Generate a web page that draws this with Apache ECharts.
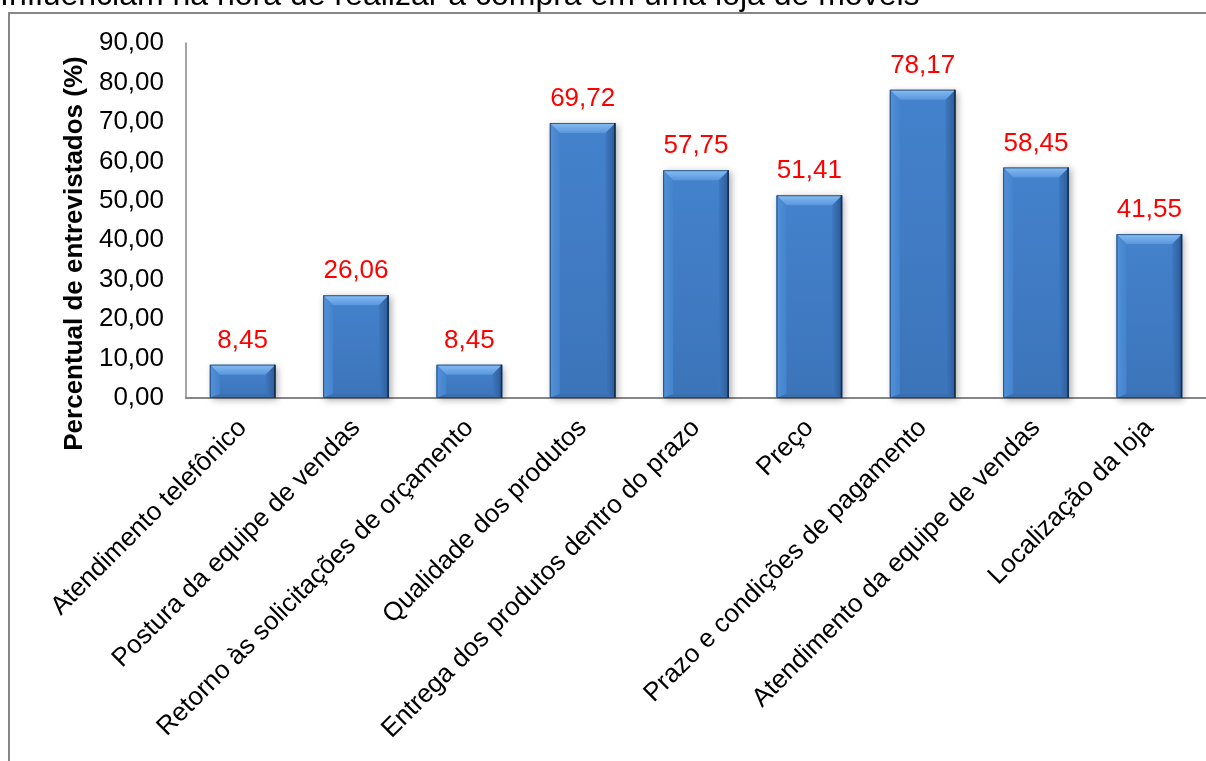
<!DOCTYPE html>
<html>
<head>
<meta charset="utf-8">
<script src="https://cdn.jsdelivr.net/npm/echarts@6/dist/echarts.min.js"></script>
<style>
  html, body { margin: 0; padding: 0; background: #ffffff; }
  #chart { width: 1206px; height: 761px; }
</style>
</head>
<body>
<div id="chart"></div>
<script>
// Fatores que influenciam a compra em uma loja de móveis
const titleText = 'Influenciam na hora de realizar a compra em uma loja de móveis';
const axisName = 'Percentual de entrevistados (%)';
const categories = [
  'Atendimento telefônico',
  'Postura da equipe de vendas',
  'Retorno às solicitações de orçamento',
  'Qualidade dos produtos',
  'Entrega dos produtos dentro do prazo',
  'Preço',
  'Prazo e condições de pagamento',
  'Atendimento da equipe de vendas',
  'Localização da loja'
];
const percentuais = [8.45, 26.06, 8.45, 69.72, 57.75, 51.41, 78.17, 58.45, 41.55];

const FONT = '"Liberation Sans", Arial, sans-serif';
const fmt = v => v.toFixed(2).replace('.', ',');

// Bevelled bar: face, four bevel facets, outline and value label
function renderBevelBar(params, api) {
  const idx = api.value(0);
  const val = api.value(1);
  const topPt = api.coord([idx, val]);
  const basePt = api.coord([idx, 0]);
  const w = api.size([1, 0])[0] * 0.58;
  const l = topPt[0] - w / 2, r = l + w;
  const t = topPt[1], b = basePt[1];
  const h = b - t;
  const bv = Math.min(10, h / 2);
  const bb = Math.min(4, h / 4);
  const cx = topPt[0];
  return {
    type: 'group',
    children: [
      {
        type: 'rect',
        shape: { x: l, y: t, width: w, height: h },
        style: {
          fill: new echarts.graphic.LinearGradient(0, 0, 0, 1, [
            { offset: 0, color: '#4482cd' },
            { offset: 1, color: '#3c74b9' }
          ]),
          shadowColor: 'rgba(0,0,0,0.35)',
          shadowBlur: 7,
          shadowOffsetX: 2,
          shadowOffsetY: 2
        }
      },
      {
        type: 'polygon',
        shape: { points: [[l, t], [r, t], [r - bv, t + bv], [l + bv, t + bv]] },
        style: {
          fill: new echarts.graphic.LinearGradient(0, 0, 0, 1, [
            { offset: 0, color: '#86bef3' },
            { offset: 1, color: '#5996dc' }
          ])
        }
      },
      {
        type: 'polygon',
        shape: { points: [[l, t], [l + bv, t + bv], [l + bv, b - bb], [l, b]] },
        style: {
          fill: new echarts.graphic.LinearGradient(0, 0, 1, 0, [
            { offset: 0, color: '#5192da' },
            { offset: 1, color: '#4583cd' }
          ])
        }
      },
      {
        type: 'polygon',
        shape: { points: [[r, t], [r, b], [r - bv, b - bb], [r - bv, t + bv]] },
        style: {
          fill: new echarts.graphic.LinearGradient(0, 0, 1, 0, [
            { offset: 0, color: '#3e78bf' },
            { offset: 1, color: '#2c5b97' }
          ])
        }
      },
      {
        type: 'polygon',
        shape: { points: [[l, b], [l + bv, b - bb], [r - bv, b - bb], [r, b]] },
        style: { fill: '#3a6fb1' }
      },
      {
        type: 'rect',
        shape: { x: l + 0.5, y: t + 0.5, width: w - 1, height: h - 1 },
        style: { fill: null, stroke: 'rgba(29,58,96,0.75)', lineWidth: 1 }
      },
      {
        type: 'rect',
        shape: { x: r - 1.5, y: t, width: 1.5, height: h },
        style: { fill: '#16304f' }
      },
      {
        type: 'text',
        style: {
          text: fmt(val),
          x: cx,
          y: t - 11,
          align: 'center',
          verticalAlign: 'bottom',
          fill: '#ff0000',
          font: '26px ' + FONT
        }
      }
    ]
  };
}

const chart = echarts.init(document.getElementById('chart'), null, { renderer: 'canvas' });
chart.setOption({
  animation: false,
  backgroundColor: '#ffffff',
  graphic: [
    {
      type: 'rect',
      shape: { x: 9, y: 13, width: 1400, height: 900 },
      style: { fill: null, stroke: '#868686', lineWidth: 2 },
      z: 0
    },
    {
      type: 'text',
      style: {
        text: titleText,
        x: 0,
        y: 12,
        verticalAlign: 'bottom',
        fill: '#000000',
        font: '32px ' + FONT
      }
    }
  ],
  grid: { left: 186, top: 43, right: 0, bottom: 363, containLabel: false },
  xAxis: {
    type: 'category',
    data: categories,
    axisLine: { lineStyle: { color: '#868686', width: 2 } },
    axisTick: { show: false },
    axisLabel: {
      rotate: 45,
      interval: 0,
      margin: 26,
      color: '#000000',
      fontSize: 26,
      fontFamily: FONT
    }
  },
  yAxis: {
    type: 'value',
    min: 0,
    max: 90,
    interval: 10,
    name: axisName,
    nameLocation: 'middle',
    nameGap: 97,
    nameTextStyle: {
      fontSize: 26,
      fontWeight: 'bold',
      color: '#000000',
      fontFamily: FONT,
      padding: [0, 66, 0, 0]
    },
    axisLine: { show: true, lineStyle: { color: '#868686', width: 1.5 } },
    axisTick: { show: false },
    splitLine: { show: false },
    axisLabel: {
      margin: 22,
      color: '#000000',
      fontSize: 26,
      fontFamily: FONT,
      formatter: v => fmt(v)
    }
  },
  series: [
    {
      type: 'custom',
      renderItem: renderBevelBar,
      encode: { x: 0, y: 1 },
      data: percentuais.map((v, i) => [i, v]),
      clip: false,
      z: 2
    }
  ]
});
</script>
</body>
</html>
